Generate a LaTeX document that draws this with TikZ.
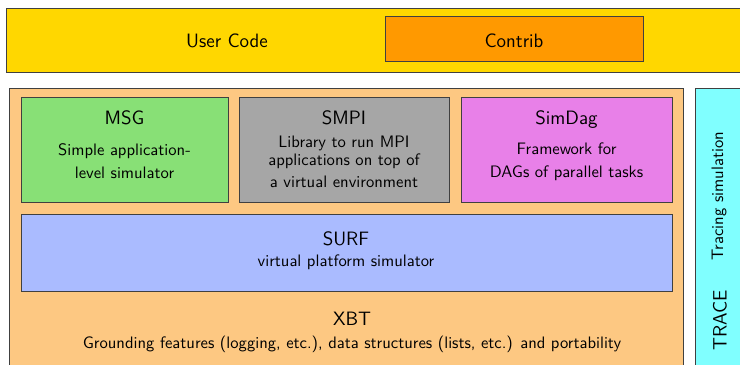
\documentclass[tikz,border=0pt]{standalone}
\usepackage{xcolor}
\usepackage{tikz}
\usetikzlibrary{positioning}

\definecolor{usercol}{RGB}{255,215,0}
\definecolor{contribcol}{RGB}{255,153,0}
\definecolor{xbtcol}{RGB}{253,200,130}
\definecolor{msgcol}{RGB}{136,224,118}
\definecolor{smpicol}{RGB}{166,166,166}
\definecolor{simdagcol}{RGB}{232,128,232}
\definecolor{surfcol}{RGB}{170,187,255}
\definecolor{tracecol}{RGB}{128,255,255}

\tikzset{
	layer/.style={draw=black!75, line width=0.6pt},
	title/.style={font=\sffamily\large, anchor=base, inner sep=0pt},
	desc/.style={font=\sffamily\fontsize{10.3}{12}\selectfont, anchor=base, inner sep=0pt}
}

\begin{document}
\begin{tikzpicture}[x=0.0218cm, y=-0.0218cm]
		\useasboundingbox (0,0) rectangle (740,364);
		\begin{scope}
		\clip (0,0) rectangle (740,364);
		% top band
		\draw[layer, fill=usercol] (6,8) rectangle (760,72);
		\draw[layer, fill=contribcol] (385,16) rectangle (643,61);
		% simgrid stack
		\draw[layer, fill=xbtcol] (9,88) rectangle (683,380);
		\draw[layer, fill=msgcol] (21,97) rectangle (228,202);
		\draw[layer, fill=smpicol] (239,97) rectangle (449,202);
		\draw[layer, fill=simdagcol] (461,97) rectangle (672,202);
		\draw[layer, fill=surfcol] (21,214) rectangle (672,291);
		% tracing column
		\draw[layer, fill=tracecol] (695,88) rectangle (760,380);
		\end{scope}

		\node[title] (user) at (227,47) {User Code};
		\node[title] (contrib) at (514,47) {Contrib};

		\node[title] (msg) at (124.5,124) {MSG};
		\node[desc] (msga) at (124.5,155) {Simple application-};
		\node[desc] (msgb) at (124.5,178) {level simulator};

		\node[title] (smpi) at (344,124) {SMPI};
		\node[desc] (smpia) at (344,147) {Library to run MPI};
		\node[desc] (smpib) at (344,165) {applications on top of};
		\node[desc] (smpic) at (344,187) {a virtual environment};

		\node[title] (simdag) at (566.5,124) {SimDag};
		\node[desc] (simdaga) at (566.5,154) {Framework for};
		\node[desc] (simdagb) at (566.5,177) {DAGs of parallel tasks};

		\node[title] (surf) at (346,245) {SURF};
		\node[desc] (surfa) at (346,266) {virtual platform simulator};

		\node[title] (xbt) at (352,325) {XBT};
		\node[desc] (xbta) at (352,348) {Grounding features (logging, etc.), data structures (lists, etc.) and portability};

		\node[desc, anchor=center, rotate=90] (tracing) at (719,196) {Tracing simulation};
		\node[title, anchor=center, rotate=90] (trace) at (720,320) {TRACE};
\end{tikzpicture}
\end{document}
